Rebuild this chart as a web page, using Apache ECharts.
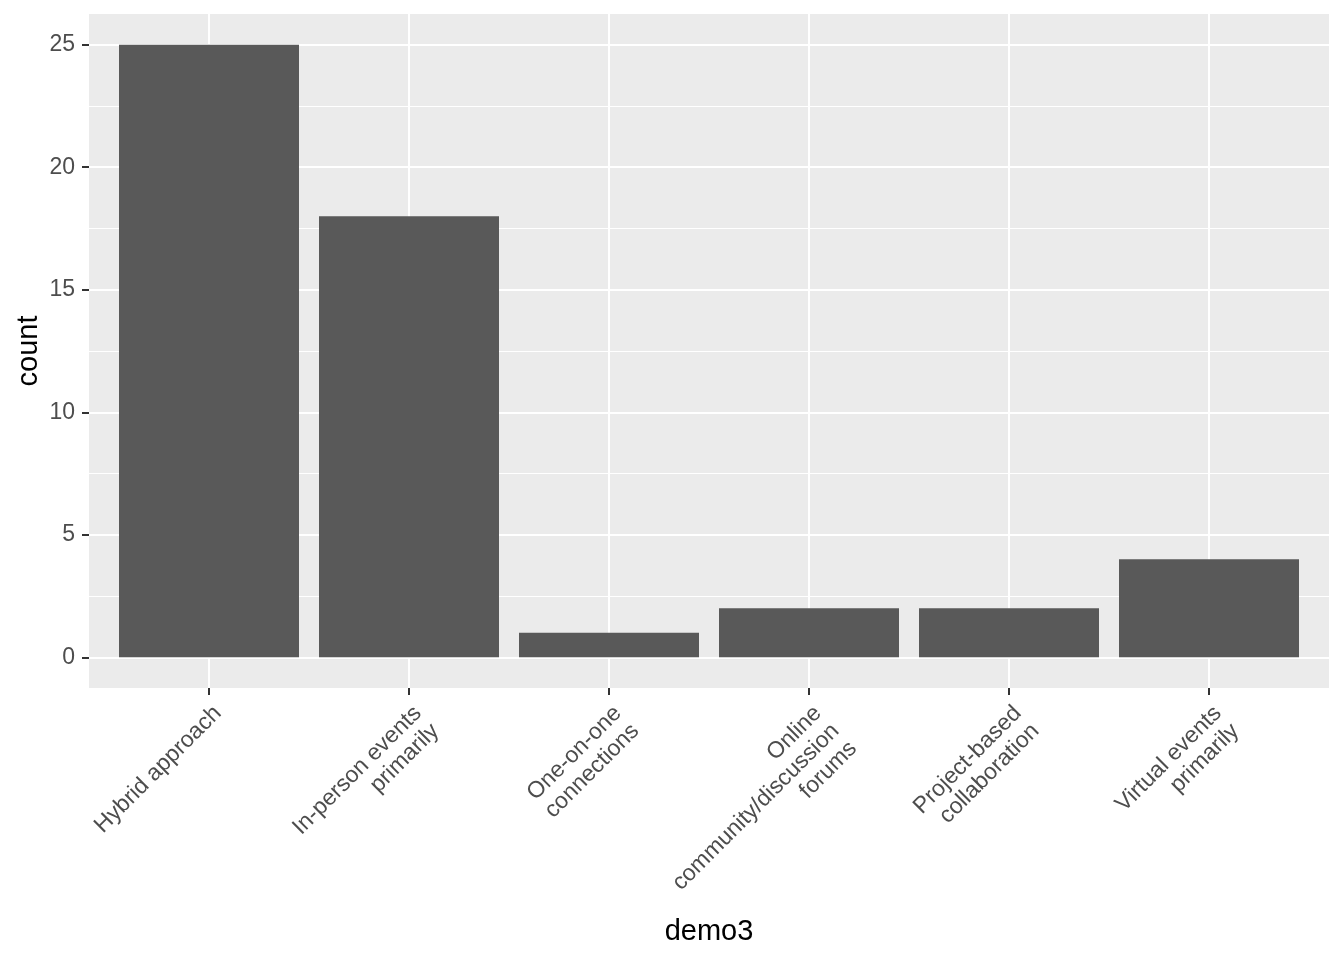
<!DOCTYPE html>
<html>
<head>
<meta charset="utf-8">
<script src="https://cdn.jsdelivr.net/npm/echarts@6/dist/echarts.min.js"></script>
<style>
html,body{margin:0;padding:0;background:#fff;}
#chart{width:1344px;height:960px;}
</style>
</head>
<body>
<div id="chart"></div>
<script>
const categories = [
  "Hybrid approach",
  "In-person events\nprimarily",
  "One-on-one\nconnections",
  "Online\ncommunity/discussion\nforums",
  "Project-based\ncollaboration",
  "Virtual events\nprimarily"
];
const counts = [25, 18, 1, 2, 2, 4];
const yTicks = [0, 5, 10, 15, 20, 25];
const yMinor = [2.5, 7.5, 12.5, 17.5, 22.5];
const xPositions = categories.map((c, i) => i + 1);

const font = "'Liberation Sans', Arial, sans-serif";
const chart = echarts.init(document.getElementById('chart'), null, {renderer: 'canvas'});
chart.setOption({
  animation: false,
  backgroundColor: '#ffffff',
  grid: {
    left: 89, right: 15, top: 14, bottom: 272,
    show: true, backgroundColor: '#EBEBEB', borderWidth: 0,
    containLabel: false
  },
  xAxis: {
    type: 'value', min: 0.4, max: 6.6,
    name: 'demo3', nameLocation: 'middle', nameGap: 229, nameMoveOverlap: false,
    nameTextStyle: {fontFamily: font, fontSize: 29, color: '#000', verticalAlign: 'top'},
    axisLine: {show: false, onZero: false},
    axisTick: {show: true, length: 7, customValues: xPositions, lineStyle: {color: '#333333', width: 2}},
    axisLabel: {
      customValues: xPositions, rotate: 45, margin: 13,
      align: 'right', verticalAlign: 'top',
      fontFamily: font, fontSize: 23, color: '#4D4D4D', lineHeight: 25,
      formatter: v => categories[Math.round(v) - 1]
    },
    splitLine: {show: true, lineStyle: {color: '#ffffff', width: 2}}
  },
  yAxis: [{
    type: 'value', min: -1.25, max: 26.25,
    name: 'count', nameLocation: 'middle', nameGap: 46, nameRotate: 90, nameMoveOverlap: false,
    nameTextStyle: {fontFamily: font, fontSize: 29, color: '#000'},
    axisLine: {show: false, onZero: false},
    axisTick: {show: true, length: 7, customValues: yTicks, lineStyle: {color: '#333333', width: 2}},
    axisLabel: {customValues: yTicks, margin: 14, fontFamily: font, fontSize: 23, color: '#4D4D4D'},
    splitLine: {show: true, lineStyle: {color: '#ffffff', width: 2}},
    z: 2
  }, {
    type: 'value', min: -1.25, max: 26.25, position: 'left',
    axisLine: {show: false, onZero: false},
    axisTick: {show: false, customValues: yMinor},
    axisLabel: {show: false, customValues: yMinor},
    splitLine: {show: true, lineStyle: {color: '#ffffff', width: 1}},
    z: 1
  }],
  series: [{
    type: 'bar',
    yAxisIndex: 0,
    barWidth: 180,
    itemStyle: {color: '#595959'},
    data: xPositions.map((x, i) => [x, counts[i]]),
    z: 5
  }]
});
</script>
</body>
</html>
